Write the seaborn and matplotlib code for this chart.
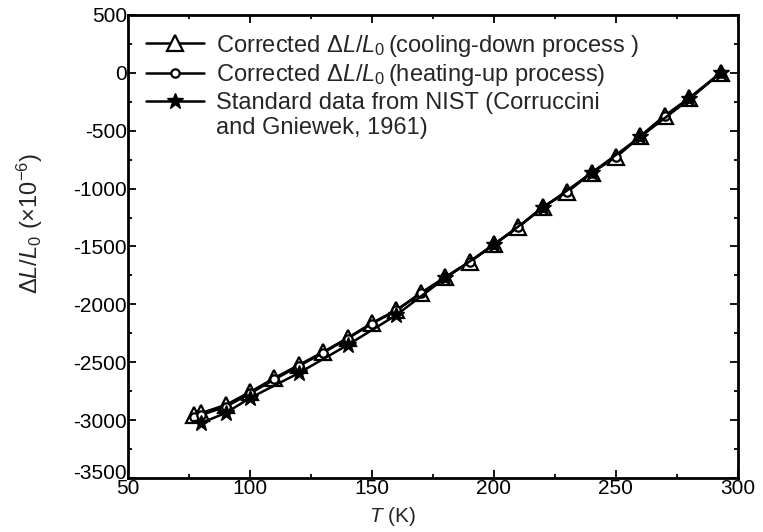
import matplotlib
matplotlib.use("Agg")
import matplotlib.pyplot as plt
import matplotlib.transforms as mtransforms
from matplotlib.ticker import MultipleLocator
import seaborn as sns

# Данные
cool_T = [77, 80, 90, 100, 110, 120, 130, 140, 150, 160, 170, 180, 190, 200,
          210, 220, 230, 240, 250, 260, 270, 280, 293]
cool_dL = [-2956, -2938, -2869, -2757, -2636, -2524, -2411, -2290, -2161, -2049,
           -1902, -1765, -1634, -1480, -1332, -1160, -1029, -862, -727, -548,
           -372, -220, 0]

heat_T = [77, 80, 90, 100, 110, 120, 130, 140, 150, 160, 170, 180, 190, 200,
          210, 220, 230, 240, 250, 260, 270, 280, 293]
heat_dL = [-2972, -2955, -2885, -2770, -2648, -2533, -2418, -2296, -2166, -2053,
           -1905, -1768, -1636, -1482, -1333, -1161, -1030, -863, -728, -549,
           -373, -221, 0]

nist_T = [80, 90, 100, 120, 140, 160, 180, 200, 220, 240, 260, 280, 293]
nist_dL = [-3025, -2938, -2809, -2593, -2351, -2092, -1772, -1487, -1167,
           -865, -554, -230, 0]

labels = [
    r"Corrected $\Delta L/L_0\,$(cooling-down process )",
    r"Corrected $\Delta L/L_0\,$(heating-up process)",
    "Standard data from NIST (Corruccini",
]
label_cont = "and Gniewek, 1961)"

sns.set_theme(style="ticks")
plt.rcParams["font.family"] = ["Liberation Sans", "DejaVu Sans"]
plt.rcParams["mathtext.fontset"] = "custom"
plt.rcParams["mathtext.rm"] = "Liberation Sans"
plt.rcParams["mathtext.it"] = "Liberation Sans:italic"
plt.rcParams["mathtext.bf"] = "Liberation Sans:bold"
plt.rcParams["axes.unicode_minus"] = False

fig = plt.figure(figsize=(7.63, 5.32), dpi=100)
ax = fig.add_axes([0.168, 0.1015, 0.799, 0.8705])

line_kw = dict(color="black", linewidth=1.8, estimator=None, sort=False)

sns.lineplot(x=cool_T, y=cool_dL, ax=ax, marker="^", markersize=11.5,
             markerfacecolor="white", markeredgecolor="black",
             markeredgewidth=1.6, label=labels[0], **line_kw)
sns.lineplot(x=heat_T, y=heat_dL, ax=ax, marker="o", markersize=6,
             markerfacecolor="white", markeredgecolor="black",
             markeredgewidth=1.6, label=labels[1], **line_kw)
sns.lineplot(x=nist_T, y=nist_dL, ax=ax, marker="*", markersize=12,
             markerfacecolor="black", markeredgecolor="black",
             markeredgewidth=1.0, label=labels[2], **line_kw)

ax.set_xlim(50, 300)
ax.set_ylim(-3500, 500)
ax.xaxis.set_major_locator(MultipleLocator(50))
ax.xaxis.set_minor_locator(MultipleLocator(25))
ax.yaxis.set_major_locator(MultipleLocator(500))
ax.yaxis.set_minor_locator(MultipleLocator(250))

ax.tick_params(which="both", direction="in", top=True, right=True,
               colors="black", labelsize=15, width=1.3, pad=1)
ax.tick_params(which="major", length=6)
ax.tick_params(which="minor", length=3)
for sp in ax.spines.values():
    sp.set_linewidth(2.0)
    sp.set_color("black")

ax.set_xlabel(r"$T$ (K)", fontsize=15)
ax.xaxis.set_label_coords(0.433, -0.058)
ax.set_ylabel(r"$\Delta L/L_0$ ($\times$10$^{-6}$)", fontsize=17)
ax.yaxis.set_label_coords(-0.137, 0.55)

leg = ax.legend(loc="upper left", bbox_to_anchor=(0.0, 1.0), frameon=False,
                fontsize=17, handlelength=2.45, handletextpad=0.5,
                labelspacing=0.16, borderaxespad=0.3, borderpad=0.45)

fig.canvas.draw()

# нижняя подпись оси Y чуть выше, как в оригинале (чтобы не наезжала на "50")
for tick in ax.yaxis.get_major_ticks():
    if abs(tick.get_loc() - (-3500)) < 1e-6:
        tick.label1.set_transform(tick.label1.get_transform() +
                                  mtransforms.ScaledTranslation(0, 5 / 72, fig.dpi_scale_trans))

# вторая строка подписи NIST, выровненная по тексту легенды
bb = leg.get_texts()[2].get_window_extent().transformed(fig.transFigure.inverted())
fig.text(bb.x0, bb.y0 - 0.006, label_cont, fontsize=17, ha="left", va="top")

fig.savefig("out.png", dpi=100)
